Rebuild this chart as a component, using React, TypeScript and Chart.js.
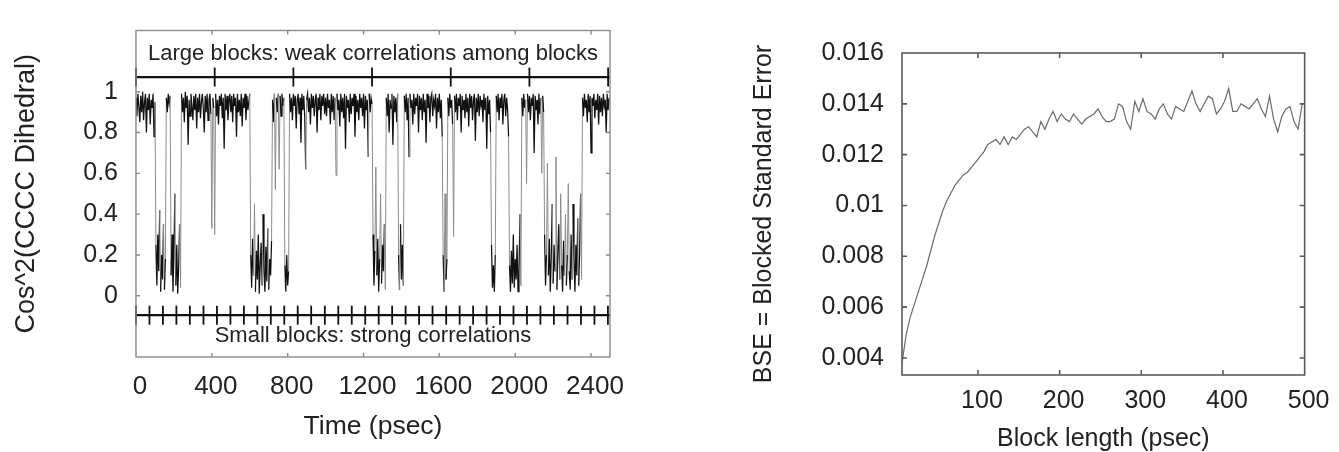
import React, { useEffect, useRef } from "react";
import { Chart, registerables } from "chart.js";

Chart.register(...registerables);

// ---------- Left chart data: Cos^2(CCCC dihedral) vs time ----------
const sampleStep = 5; // psec between samples
const cos2Part1 = [
  .97, .88, .99, .93, .85, .98, .9, 1, .86, .95, .99, .8, .97, .91, .99, .84, .96, .92, .99, .78, .95,
  .25, .05, .3, .12, .42, .02, .2, .08, .35, .03, .18,
  .97, .9, .99, .94, .98,
  .1, .3, .02, .2, .5, .05, .25, .01, .15, .35, .04,
  .99, .9, .97, .85, 1, .92, .98, .74, .96, .88, .99, .93, .86, .98, .91, .99, .82, .97, .9, .99, .87, .95, .99, .92, .8, .98,
  .9, .99, .86, .96, .99, .89, .33, .97, .92, .3, .99, .88, .96, .84, .98, .93, .99, .87, .97, .72, .99, .91, .98, .86, .95, .99,
];
const cos2Part2 = [
  .9, .98, .85, .99, .93, .97, .78, .99, .9, .96, .88, .99, .83, .97, .92, .99, .86, .98, .91, .95, .99,
  .2, .04, .28, .1, .45, .02, .22, .08, .3, .01, .15, .26, .05, .4, .12, .02, .24, .07, .33, .03, .18, .1, .27,
  .96, .85, .99, .52, .97, .9, .99, .62, .98, .88, .99, .93, .97,
  .15, .02, .2, .05, .12,
  .99, .9, .97, .86, .99, .93, .98, .82, .96, .99, .89, .97, .75, .99, .91, .98, .87, .62, .96,
  .99, .9, .97, .84, .99, .92, .98, .88, .96, .99, .8, .97, .91, .99, .86, .98, .93, .99, .89,
];
const cos2Part3 = [
  .97, .88, .99, .92, .96, .84, .99, .9, .98, .86, .97, .59, .99, .91, .96, .83, .99, .9, .97, .87, .99, .72, .98, .92, .96,
  .85, .99, .89, .97, .93, .99, .78, .98, .9, .96, .86, .99, .92, .97, .88, .99, .82, .98, .91, .96, .68, .99, .9, .97, .94,
  .3, .05, .22, .63, .1, .28, .02, .18, .5, .06, .25, .12, .35, .03,
  .97, .88, .99, .8, .96, .92, .99, .74, .98, .9, .97, .85, .99,
  .2, .03, .35, .08, .25, .05,
  .98, .9, .99, .86, .97, .68, .99, .92, .96, .84, .99, .89, .97, .93, .99, .8, .98,
];
const cos2Part4 = [
  .91, .97, .86, .99, .9, .96, .75, .99, .92, .98, .85, .97, .99, .88, .96, .93, .99, .82, .97, .9, .99, .87, .96, .78,
  .2, .02, .5, .08, .18,
  .97, .88, .99, .92, .96, .84, .29, .98, .9, .99, .86, .97, .93, .99, .8, .98, .91, .96, .87, .99, .9, .97, .83,
  .99, .92, .98, .86, .96, .99, .76, .97, .9, .99, .88, .98, .93, .96, .85, .99, .91, .97, .72, .98, .89, .96, .8,
  .25, .04, .15, .02, .2,
  .98, .9, .99, .86, .97, .92, .99, .84, .96, .99, .88, .97, .91, .78,
  .15, .02, .22, .06, .3, .04,
];
const cos2Part5 = [
  .18, .08, .25, .02, .12, .4, .05,
  .97, .88, .99, .92, .96, .55, .99, .9, .98, .86, .97, .93, .99, .7, .98, .91, .96, .84, .99, .89, .97, .6, .98, .9,
  .3, .05, .2, .65, .1, .28, .02, .18, .45, .06, .25, .12, .68, .03, .22, .35, .08, .5, .15, .02,
  .27, .1, .4, .05, .2, .55, .12, .03, .3, .08, .45, .18, .02, .25, .1, .38, .05, .22, .5, .08,
  .97, .88, .99, .92, .96, .85, .99, .9, .98, .7, .97, .93, .99, .87, .96, .91, .99, .84, .98, .9, .97, .88, .99, .93, .96,
  .8, .99, .91, .97,
];
const cos2Values = [...cos2Part1, ...cos2Part2, ...cos2Part3, ...cos2Part4, ...cos2Part5];

const timeTicks = [0, 400, 800, 1200, 1600, 2000, 2400];
const cos2Ticks = [0, 0.2, 0.4, 0.6, 0.8, 1];
const largeBlockEdges = [0, 415, 830, 1245, 1660, 2075, 2490];
const smallBlockEdges = [
  0, 71, 142, 213, 284, 356, 427, 498, 569, 640, 711, 782, 853, 924, 996, 1067, 1138, 1209,
  1280, 1351, 1422, 1493, 1564, 1636, 1707, 1778, 1849, 1920, 1991, 2062, 2133, 2204, 2276, 2347, 2418, 2489,
];
const largeBarLevel = 1.072;
const smallBarLevel = -0.095;
const largeBlockNote = "Large blocks: weak correlations among blocks";
const smallBlockNote = "Small blocks: strong correlations";
const largeNoteLevel = 1.186;
const smallNoteLevel = -0.198;

// ---------- Right chart data: blocked standard error vs block length ----------
const blockLengthStart = 7;
const blockLengthStep = 5;
const bseValues = [
  0.0038, 0.0049, 0.0056, 0.0061, 0.0066, 0.0071, 0.0076, 0.0082, 0.0088, 0.0093,
  0.0098, 0.0102, 0.0105, 0.0108, 0.011, 0.0112, 0.0113, 0.0115, 0.0117, 0.0119,
  0.0121, 0.0124, 0.0125, 0.0126, 0.0124, 0.0127, 0.0124, 0.0127, 0.0126, 0.0128,
  0.013, 0.0131, 0.0129, 0.0127, 0.0133, 0.013, 0.0134, 0.0137, 0.0133, 0.0136,
  0.0134, 0.0133, 0.0136, 0.0134, 0.0132, 0.0134, 0.0135, 0.0136, 0.0138, 0.0135,
  0.0133, 0.0133, 0.0134, 0.014, 0.0139, 0.0133, 0.013, 0.0141, 0.0137, 0.0142,
  0.0137, 0.0136, 0.0134, 0.0138, 0.014, 0.0136, 0.0134, 0.0139, 0.0138, 0.0137,
  0.0141, 0.0145, 0.014, 0.0137, 0.014, 0.0143, 0.0142, 0.0136, 0.0138, 0.0141,
  0.0146, 0.0137, 0.0137, 0.014, 0.0139, 0.0138, 0.014, 0.0142, 0.0138, 0.0135,
  0.0143, 0.0134, 0.0129, 0.0135, 0.0138, 0.0139, 0.0133, 0.013, 0.014,
];
const blockTicks = [100, 200, 300, 400, 500];
const bseTicks = [0.004, 0.006, 0.008, 0.01, 0.012, 0.014, 0.016];

const FONT = "'Liberation Sans', Arial, Helvetica, sans-serif";
const TEXT = "#222";

const framePlugin = {
  id: "frame",
  afterDraw(chart: any, _args: any, opts: any) {
    const { ctx, chartArea: a, scales } = chart;
    ctx.save();
    ctx.strokeStyle = opts.color;
    ctx.lineWidth = opts.width;
    ctx.strokeRect(a.left, a.top, a.right - a.left, a.bottom - a.top);
    const L = opts.tickLen;
    ctx.beginPath();
    for (const v of opts.xTicks) {
      const px = scales.x.getPixelForValue(v);
      if (px <= a.left + 1 || px >= a.right - 1) continue;
      ctx.moveTo(px, a.top);
      ctx.lineTo(px, a.top + L);
      ctx.moveTo(px, a.bottom);
      ctx.lineTo(px, a.bottom - L);
    }
    for (const v of opts.yTicks) {
      const py = scales.y.getPixelForValue(v);
      if (py <= a.top + 1 || py >= a.bottom - 1) continue;
      ctx.moveTo(a.left, py);
      ctx.lineTo(a.left + L, py);
      ctx.moveTo(a.right, py);
      ctx.lineTo(a.right - L, py);
    }
    ctx.stroke();
    ctx.restore();
  },
};

const notePlugin = {
  id: "notes",
  afterDatasetsDraw(chart: any, _args: any, opts: any) {
    if (!opts || !opts.items) return;
    const { ctx, chartArea: a, scales } = chart;
    ctx.save();
    ctx.fillStyle = TEXT;
    ctx.font = `${opts.size}px ${FONT}`;
    ctx.textAlign = "center";
    ctx.textBaseline = "middle";
    const cx = (a.left + a.right) / 2 + (opts.dx || 0);
    for (const it of opts.items) {
      ctx.fillText(it.text, cx, scales.y.getPixelForValue(it.y));
    }
    ctx.restore();
  },
};

function fmt(v: number) {
  return String(Number(v.toFixed(4)));
}

function LeftChart() {
  const ref = useRef<HTMLCanvasElement>(null);
  useEffect(() => {
    const barColor = "#111";
    const chart = new Chart(ref.current!, {
      type: "line",
      data: {
        datasets: [
          {
            data: cos2Values.map((v, i) => ({ x: i * sampleStep, y: v })),
            borderColor: "#111",
            borderWidth: 1.25,
            pointRadius: 0,
            tension: 0,
            segment: {
              borderColor: (c: any) =>
                Math.abs(c.p1.parsed.y - c.p0.parsed.y) > 0.3 ? "#8c8c8c" : "#111",
              borderWidth: (c: any) =>
                Math.abs(c.p1.parsed.y - c.p0.parsed.y) > 0.3 ? 1 : 1.25,
            },
          },
          {
            data: [{ x: 0, y: largeBarLevel }, { x: 2500, y: largeBarLevel }],
            borderColor: barColor,
            borderWidth: 2.2,
            pointRadius: 0,
            clip: false,
          },
          {
            data: largeBlockEdges.map((x) => ({ x, y: largeBarLevel })),
            showLine: false,
            pointStyle: "line",
            pointRotation: 90,
            pointRadius: 9.5,
            pointBorderWidth: 1.8,
            pointBorderColor: barColor,
            borderColor: barColor,
            clip: false,
          },
          {
            data: [{ x: 0, y: smallBarLevel }, { x: 2500, y: smallBarLevel }],
            borderColor: barColor,
            borderWidth: 2.2,
            pointRadius: 0,
            clip: false,
          },
          {
            data: smallBlockEdges.map((x) => ({ x, y: smallBarLevel })),
            showLine: false,
            pointStyle: "line",
            pointRotation: 90,
            pointRadius: 9.5,
            pointBorderWidth: 1.8,
            pointBorderColor: barColor,
            borderColor: barColor,
            clip: false,
          },
        ] as any,
      },
      options: {
        animation: false,
        responsive: false,
        events: [],
        layout: { padding: { left: 0, right: 40, top: 13, bottom: 0 } },
        plugins: {
          legend: { display: false },
          tooltip: { enabled: false },
          frame: { color: "#8a8a8a", width: 1.4, tickLen: 4, xTicks: timeTicks, yTicks: cos2Ticks },
          notes: {
            size: 22,
            items: [
              { text: largeBlockNote, y: largeNoteLevel },
              { text: smallBlockNote, y: smallNoteLevel },
            ],
          },
        } as any,
        scales: {
          x: {
            type: "linear",
            min: 0,
            max: 2500,
            afterBuildTicks: (s: any) => {
              s.ticks = timeTicks.map((v) => ({ value: v }));
            },
            afterFit: (s: any) => {
              s.height = 95;
            },
            grid: { display: false, drawTicks: false },
            border: { display: false },
            ticks: {
              autoSkip: false,
              maxRotation: 0,
              padding: 17,
              labelOffset: 4,
              color: TEXT,
              font: { family: FONT, size: 26, lineHeight: 1 },
              callback: (v: any) => fmt(Number(v)),
            },
            title: {
              display: true,
              text: "Time (psec)",
              color: TEXT,
              font: { family: FONT, size: 26.5, lineHeight: 1 },
              padding: { top: 0, bottom: 12 },
            },
          },
          y: {
            type: "linear",
            min: -0.3,
            max: 1.3,
            afterBuildTicks: (s: any) => {
              s.ticks = cos2Ticks.map((v) => ({ value: v }));
            },
            afterFit: (s: any) => {
              s.width = 136;
            },
            grid: { display: false, drawTicks: false },
            border: { display: false },
            ticks: {
              autoSkip: false,
              padding: 18,
              color: TEXT,
              font: { family: FONT, size: 25, lineHeight: 1 },
              callback: (v: any) => fmt(Number(v)),
            },
            title: {
              display: true,
              text: "Cos^2(CCCC Dihedral)",
              color: TEXT,
              font: { family: FONT, size: 27, lineHeight: 1 },
              padding: { top: 13.5, bottom: 0 },
            },
          },
        },
      } as any,
      plugins: [framePlugin, notePlugin],
    });
    return () => chart.destroy();
  }, []);
  return (
    <canvas
      ref={ref}
      width={650}
      height={452}
      style={{ position: "absolute", left: 0, top: 0, width: 650, height: 452 }}
    />
  );
}

function RightChart() {
  const ref = useRef<HTMLCanvasElement>(null);
  useEffect(() => {
    const chart = new Chart(ref.current!, {
      type: "line",
      data: {
        datasets: [
          {
            data: bseValues.map((v, i) => ({ x: blockLengthStart + i * blockLengthStep, y: v })),
            borderColor: "#6a6a6a",
            borderWidth: 1.2,
            pointRadius: 0,
            tension: 0,
          },
        ] as any,
      },
      options: {
        animation: false,
        responsive: false,
        events: [],
        layout: { padding: { left: 0, right: 28, top: 53, bottom: 0 } },
        plugins: {
          legend: { display: false },
          tooltip: { enabled: false },
          frame: { color: "#5a5a5a", width: 1.6, tickLen: 5, xTicks: blockTicks, yTicks: bseTicks },
        } as any,
        scales: {
          x: {
            type: "linear",
            min: 7,
            max: 500,
            afterBuildTicks: (s: any) => {
              s.ticks = blockTicks.map((v) => ({ value: v }));
            },
            afterFit: (s: any) => {
              s.height = 77;
            },
            grid: { display: false, drawTicks: false },
            border: { display: false },
            ticks: {
              autoSkip: false,
              maxRotation: 0,
              padding: 13.5,
              labelOffset: 4,
              color: TEXT,
              font: { family: FONT, size: 25, lineHeight: 1 },
              callback: (v: any) => fmt(Number(v)),
            },
            title: {
              display: true,
              text: "Block length (psec)",
              color: TEXT,
              font: { family: FONT, size: 25, lineHeight: 1 },
              padding: { top: 0, bottom: 0 },
            },
          },
          y: {
            type: "linear",
            min: 0.00333,
            max: 0.016,
            afterBuildTicks: (s: any) => {
              s.ticks = bseTicks.map((v) => ({ value: v }));
            },
            afterFit: (s: any) => {
              s.width = 252;
            },
            grid: { display: false, drawTicks: false },
            border: { display: false },
            ticks: {
              autoSkip: false,
              padding: 18,
              color: TEXT,
              font: { family: FONT, size: 25, lineHeight: 1 },
              callback: (v: any) => fmt(Number(v)),
            },
            title: {
              display: true,
              text: "BSE = Blocked Standard Error",
              color: TEXT,
              font: { family: FONT, size: 25, lineHeight: 1 },
              padding: { top: 101.5, bottom: 0 },
            },
          },
        },
      } as any,
      plugins: [framePlugin],
    });
    return () => chart.destroy();
  }, []);
  return (
    <canvas
      ref={ref}
      width={689}
      height={452}
      style={{ position: "absolute", left: 650, top: 0, width: 689, height: 452 }}
    />
  );
}

export default function App() {
  return (
    <div
      style={{
        position: "absolute",
        left: 0,
        top: 0,
        width: 1339,
        height: 452,
        background: "#fff",
        overflow: "hidden",
      }}
    >
      <LeftChart />
      <RightChart />
    </div>
  );
}
